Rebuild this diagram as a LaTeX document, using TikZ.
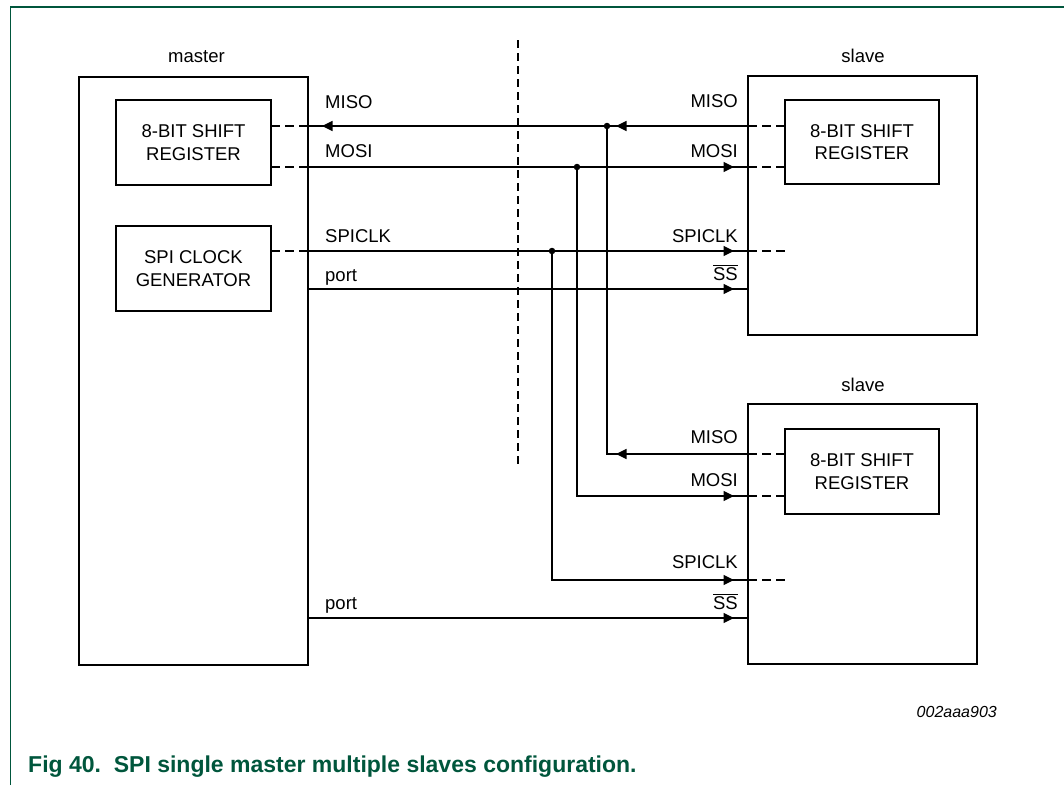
\documentclass[tikz,border=0pt]{standalone}
\usepackage{fontspec}
\setmainfont{Liberation Sans}
\usetikzlibrary{arrows.meta}
\definecolor{nxpgreen}{RGB}{0,86,60}
\begin{document}
\begin{tikzpicture}[x=1pt,y=-1pt,
  box/.style={draw,line width=2.6pt,inner sep=0pt,outer sep=0pt,fill=none},
  regbox/.style={box,align=center,font=\fontsize{18.5}{22.5}\selectfont},
  sig/.style={line width=1.4pt},
  stub/.style={line width=1.4pt,dash pattern=on 9pt off 5pt},
  tip/.style={line width=1.4pt,-{Triangle[length=10.5pt,width=10pt]}},
  lbl/.style={font=\fontsize{18.5}{22}\selectfont,inner sep=0pt},
  dot/.style={circle,fill,inner sep=0pt,minimum size=6.5pt}
]
\useasboundingbox (0,0) rectangle (1064,785);
% frame
\draw[nxpgreen,line width=1.6pt] (10.5,785) -- (10.5,7) -- (1064,7);

% boxes
\node[box,minimum width=229pt,minimum height=588pt] (M) at (193.5,371) {};
\node[regbox,minimum width=155pt,minimum height=85pt] (MR) at (193.5,142.5) {8-BIT SHIFT\\REGISTER};
\node[regbox,minimum width=155pt,minimum height=85pt] (MC) at (193.5,268.5) {SPI CLOCK\\GENERATOR};
\node[box,minimum width=229pt,minimum height=259pt] (S1) at (862.5,205.5) {};
\node[regbox,minimum width=154pt,minimum height=84pt] (S1R) at (862,142) {8-BIT SHIFT\\REGISTER};
\node[box,minimum width=229pt,minimum height=260pt] (S2) at (862.5,534) {};
\node[regbox,minimum width=154pt,minimum height=85pt] (S2R) at (862,471.5) {8-BIT SHIFT\\REGISTER};

% titles
\node[lbl,anchor=base] (tm) at (196.5,62) {master};
\node[lbl,anchor=base] (ts1) at (863,62) {slave};
\node[lbl,anchor=base] (ts2) at (863,391) {slave};

% separator
\coordinate (sepT) at (518,40);
\coordinate (sepB) at (518,467);
\draw[line width=1.4pt,dash pattern=on 8pt off 5pt] (sepT) -- (sepB);

% pin coordinates
\coordinate (mMISO) at (308,126);
\coordinate (mMOSI) at (308,167);
\coordinate (mCLK) at (308,251);
\coordinate (mP1) at (308,289);
\coordinate (mP2) at (308,618);
\coordinate (rMISO) at (271,126);
\coordinate (rMOSI) at (271,167);
\coordinate (rCLK) at (271,251);
\coordinate (s1MISO) at (748,126);
\coordinate (s1MOSI) at (748,167);
\coordinate (s1CLK) at (748,251);
\coordinate (s1SS) at (748,289);
\coordinate (s1rMISO) at (785,126);
\coordinate (s1rMOSI) at (785,167);
\coordinate (s1rCLK) at (785,251);
\coordinate (s2MISO) at (748,454);
\coordinate (s2MOSI) at (748,496);
\coordinate (s2CLK) at (748,580);
\coordinate (s2SS) at (748,618);
\coordinate (s2rMISO) at (785,454);
\coordinate (s2rMOSI) at (785,496);
\coordinate (s2rCLK) at (785,580);
% junctions and corners
\coordinate (J1) at (607,126);
\coordinate (J2) at (577,167);
\coordinate (J3) at (552,251);
\coordinate (C1) at (607,454);
\coordinate (C2) at (577,496);
\coordinate (C3) at (552,580);
% arrow tips
\coordinate (aM) at (322,126);
\coordinate (aS1) at (616,126);
\coordinate (aS2) at (616,454);
\coordinate (a1MOSI) at (734,167);
\coordinate (a1CLK) at (734,251);
\coordinate (a1SS) at (734,289);
\coordinate (a2MOSI) at (734,496);
\coordinate (a2CLK) at (734,580);
\coordinate (a2SS) at (734,618);

% dashed stubs
\draw[stub] (rMISO) -- (mMISO);
\draw[stub] (rMOSI) -- (mMOSI);
\draw[stub] (rCLK) -- (mCLK);
\draw[stub] (s1MISO) -- (s1rMISO);
\draw[stub] (s1MOSI) -- (s1rMOSI);
\draw[stub] (s1CLK) -- (s1rCLK);
\draw[stub] (s2MISO) -- (s2rMISO);
\draw[stub] (s2MOSI) -- (s2rMOSI);
\draw[stub] (s2CLK) -- (s2rCLK);

% MISO
\draw[sig] (s1MISO) -- (mMISO);
\draw[tip] (s1MISO) -- (aS1);
\draw[tip] (J1) -- (aM);
\draw[sig] (J1) -- (C1) -- (s2MISO);
\draw[tip] (s2MISO) -- (aS2);
% MOSI
\draw[sig] (mMOSI) -- (s1MOSI);
\draw[tip] (mMOSI) -- (a1MOSI);
\draw[sig] (J2) -- (C2) -- (s2MOSI);
\draw[tip] (C2) -- (a2MOSI);
% SPICLK
\draw[sig] (mCLK) -- (s1CLK);
\draw[tip] (mCLK) -- (a1CLK);
\draw[sig] (J3) -- (C3) -- (s2CLK);
\draw[tip] (C3) -- (a2CLK);
% ports
\draw[sig] (mP1) -- (s1SS);
\draw[tip] (mP1) -- (a1SS);
\draw[sig] (mP2) -- (s2SS);
\draw[tip] (mP2) -- (a2SS);

% junction dots
\node[dot] (d1) at (J1) {};
\node[dot] (d2) at (J2) {};
\node[dot] (d3) at (J3) {};

% master side labels
\node[lbl,anchor=base west] (lm1) at (325,108) {MISO};
\node[lbl,anchor=base west] (lm2) at (325,157) {MOSI};
\node[lbl,anchor=base west] (lm3) at (325,242) {SPICLK};
\node[lbl,anchor=base west] (lm4) at (325,281) {port};
\node[lbl,anchor=base west] (lm5) at (325,609) {port};
% slave 1 labels
\node[lbl,anchor=base east] (l11) at (738,107) {MISO};
\node[lbl,anchor=base east] (l12) at (738,157) {MOSI};
\node[lbl,anchor=base east] (l13) at (738,242) {SPICLK};
\node[lbl,anchor=base east] (l14) at (738,280) {$\overline{\mbox{SS}}$};
% slave 2 labels
\node[lbl,anchor=base east] (l21) at (738,443) {MISO};
\node[lbl,anchor=base east] (l22) at (738,486) {MOSI};
\node[lbl,anchor=base east] (l23) at (738,568) {SPICLK};
\node[lbl,anchor=base east] (l24) at (738,609) {$\overline{\mbox{SS}}$};

% id and caption
\node[inner sep=0pt,anchor=base east,font=\fontsize{16}{19}\selectfont\itshape] (id) at (997,717) {002aaa903};
\node[inner sep=0pt,anchor=base west,text=nxpgreen,font=\fontsize{23}{27}\selectfont\bfseries] (cap) at (28,772) {Fig 40.\ \ SPI single master multiple slaves configuration.};
\end{tikzpicture}
\end{document}
